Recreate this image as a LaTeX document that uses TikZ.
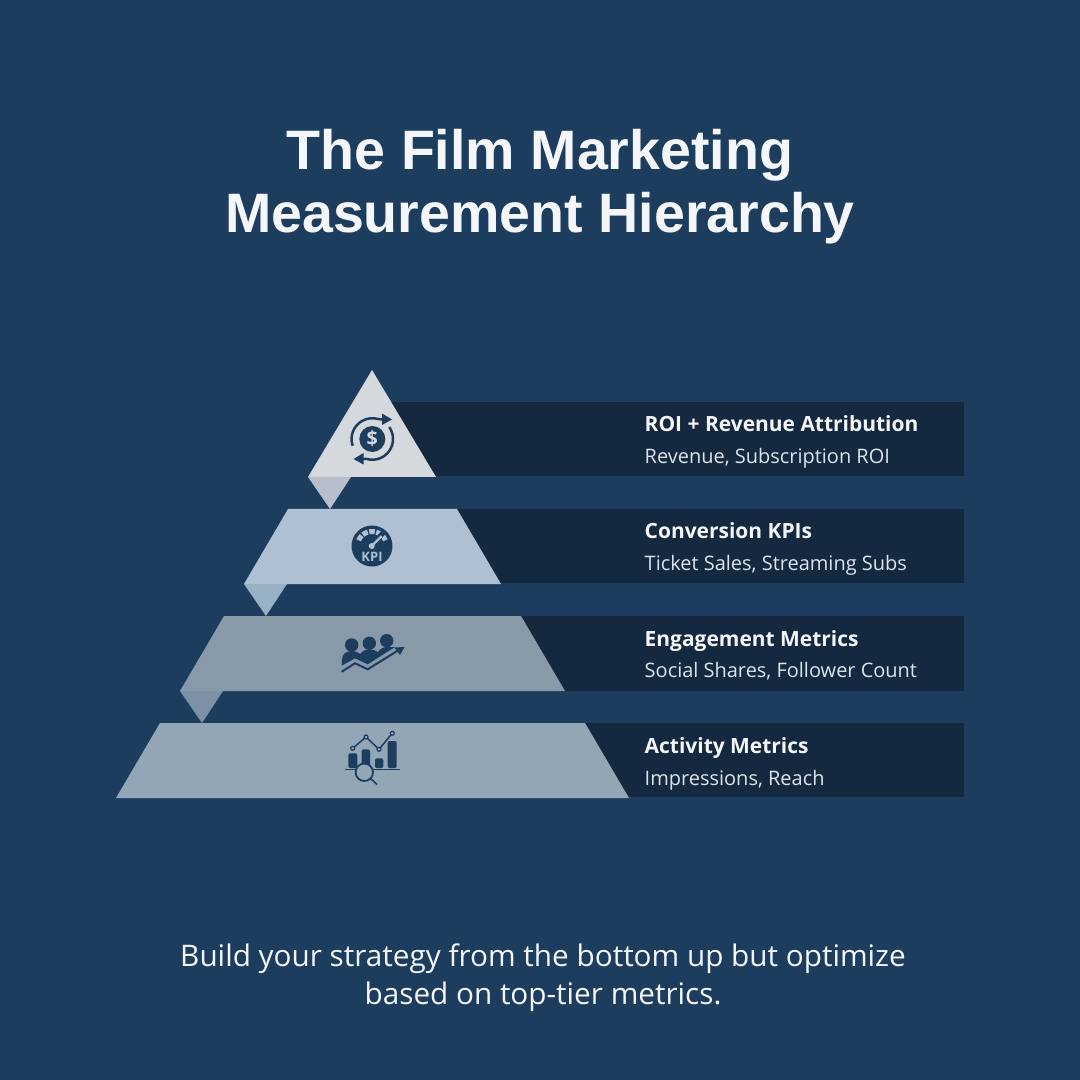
\documentclass[tikz,border=0pt]{standalone}
\usepackage{fontspec}
\setmainfont{Open Sans}
\newfontfamily\titlefont{Liberation Sans}
\usepackage{xcolor}
\usetikzlibrary{calc, arrows.meta}

\definecolor{bgblue}{HTML}{1D3D5F}
\definecolor{banddark}{HTML}{14293F}
\definecolor{tierone}{HTML}{D5D9DD}
\definecolor{foldone}{HTML}{B8BFCB}
\definecolor{tiertwo}{HTML}{AEC0D1}
\definecolor{foldtwo}{HTML}{9AB0C5}
\definecolor{tierthree}{HTML}{8899A9}
\definecolor{foldthree}{HTML}{7D91A6}
\definecolor{tierfour}{HTML}{93A6B6}
\definecolor{textwhite}{HTML}{F4F6FA}
\definecolor{textsoft}{HTML}{DCE4EC}

\begin{document}
\begin{tikzpicture}[x=0.01cm, y=-0.01cm]
	\tikzstyle{titletext} = [text=textwhite, anchor=base, inner sep=0, font=\titlefont\fontsize{15.8}{20}\selectfont\bfseries]
	\tikzstyle{headtext} = [text=textwhite, anchor=base west, inner sep=0, font=\fontsize{5.96}{8}\selectfont\bfseries]
	\tikzstyle{subtext} = [text=textsoft, anchor=base west, inner sep=0, font=\fontsize{5.68}{8}\selectfont]
	\tikzstyle{closing} = [text=textwhite, anchor=base, inner sep=0, font=\fontsize{8.45}{10}\selectfont]
	\tikzstyle{band} = [fill=banddark]
	\tikzstyle{icon} = [fill=bgblue]
	\tikzstyle{iconline} = [draw=bgblue, line width=0.025cm]
	\tikzstyle{chartbar} = [fill=bgblue, rounded corners=0.02cm]

	\useasboundingbox (0, 0) rectangle (1080, 1080);
	\fill[bgblue] (0, 0) rectangle (1080, 1080);

	% dark bands
	\fill[band] (380, 402) rectangle (964, 476);
	\fill[band] (440, 509) rectangle (964, 583);
	\fill[band] (500, 616) rectangle (964, 691);
	\fill[band] (560, 723) rectangle (964, 797);

	% pyramid
	\fill[tierone] (372, 370) -- (436, 477) -- (308, 477) -- cycle;
	\fill[foldone] (308, 477) -- (351, 477) -- (330, 509) -- cycle;
	\fill[tiertwo] (288, 509) -- (457, 509) -- (501, 584) -- (244, 584) -- cycle;
	\fill[foldtwo] (244, 584) -- (287, 584) -- (266, 616) -- cycle;
	\fill[tierthree] (224, 616) -- (521, 616) -- (565, 691) -- (180, 691) -- cycle;
	\fill[foldthree] (180, 691) -- (223, 691) -- (202, 723) -- cycle;
	\fill[tierfour] (160, 723) -- (585, 723) -- (629, 798) -- (116, 798) -- cycle;

	% revenue icon
	\fill[icon] (372.3, 439) circle[radius=0.13cm];
	\node[text=tierone, inner sep=0, font=\fontsize{5.6}{6}\selectfont\bfseries] at (372.3, 439) (dollar) {\$};
	\draw[iconline] plot[domain=161:282, samples=30] ({372.3+20.7*cos(\x)}, {439+20.7*sin(\x)}) -- (382, 419.5);
	\fill[icon] (382, 413.5) -- (392, 419.5) -- (382, 425) -- cycle;
	\draw[iconline] plot[domain=-35:106, samples=30] ({372.3+20.7*cos(\x)}, {439+20.7*sin(\x)}) -- (363, 459);
	\fill[icon] (363.5, 453) -- (353.5, 459) -- (363.5, 464.5) -- cycle;

	% kpi icon
	\fill[icon] (372, 546) circle[radius=0.205cm];
	\foreach \a in {203, 231, 259, 287, 315}
		\draw[draw=tiertwo, line width=0.05cm] plot[domain=\a:\a+22, samples=8] ({372+14.5*cos(\x)}, {546+14.5*sin(\x)});
	\draw[draw=bgblue, line width=0.05cm] (371.7, 546) -- (383, 533);
	\draw[draw=tiertwo, line width=0.022cm] (371.7, 546) -- (381.7, 536);
	\fill[tiertwo] (371.7, 546) circle[radius=0.03cm];
	\node[text=tiertwo, inner sep=0, font=\fontsize{3.7}{4}\selectfont\bfseries] at (372, 557) (kpi) {KPI};

	% people icon
	\fill[icon] (351.7, 645) circle[radius=0.067cm];
	\fill[icon] (369.3, 643.3) circle[radius=0.067cm];
	\fill[icon] (386.7, 640.7) circle[radius=0.067cm];
	\fill[icon] (341.7, 665.7) -- (342, 660) .. controls (342, 654) and (346, 651) .. (352, 651)
		.. controls (355, 651) and (358, 652) .. (360, 654) .. controls (362, 651) and (365, 649.5) .. (369.5, 649.5)
		.. controls (373, 649.5) and (376, 650.5) .. (378, 652) .. controls (380, 649) and (383, 647) .. (387, 647)
		-- (395, 647) -- (367.7, 664.3) -- (355, 658.3) -- cycle;
	\draw[draw=bgblue, line width=0.02cm] (341.7, 671.7) -- (355, 663.3) -- (367.7, 669.3) -- (398, 650.5);
	\fill[icon] (404.5, 647) -- (394.5, 647.5) -- (400, 655) -- cycle;

	% chart icon
	\fill[chartbar] (348.3, 753.3) rectangle (357.3, 768);
	\fill[chartbar] (361.7, 749.3) rectangle (370, 768);
	\fill[chartbar] (375, 758.3) rectangle (383.3, 768);
	\fill[chartbar] (387.7, 741) rectangle (396.7, 768);
	\draw[draw=bgblue, line width=0.012cm] (345, 769.6) -- (400, 769.6);
	\draw[draw=bgblue, line width=0.015cm] (352.7, 748.3) -- (366, 737) -- (379, 749.3) -- (392.3, 733.3);
	\foreach \p in {(352.7, 748.3), (366, 737), (379, 749.3), (392.3, 733.3)}
		\draw[draw=bgblue, fill=tierfour, line width=0.012cm] \p circle[radius=0.02cm];
	\draw[draw=bgblue, fill=tierfour, line width=0.018cm] (364.3, 772.3) circle[radius=0.087cm];
	\draw[draw=bgblue, line width=0.016cm] (370.5, 778.5) -- (377, 784.5);

	% texts
	\node[titletext] at (540, 170) (title1) {The Film Marketing};
	\node[titletext] at (540, 233) (title2) {Measurement Hierarchy};

	\node[headtext] at (644, 432) (head1) {ROI + Revenue Attribution};
	\node[subtext] at (644, 464) (sub1) {Revenue, Subscription ROI};
	\node[headtext] at (644, 538) (head2) {Conversion KPIs};
	\node[subtext] at (644, 570) (sub2) {Ticket Sales, Streaming Subs};
	\node[headtext] at (644, 646) (head3) {Engagement Metrics};
	\node[subtext] at (644, 677) (sub3) {Social Shares, Follower Count};
	\node[headtext] at (644, 753) (head4) {Activity Metrics};
	\node[subtext] at (644, 785) (sub4) {Impressions, Reach};

	\node[closing] at (543, 966) (closing1) {Build your strategy from the bottom up but optimize};
	\node[closing] at (543, 1004) (closing2) {based on top-tier metrics.};
\end{tikzpicture}
\end{document}
